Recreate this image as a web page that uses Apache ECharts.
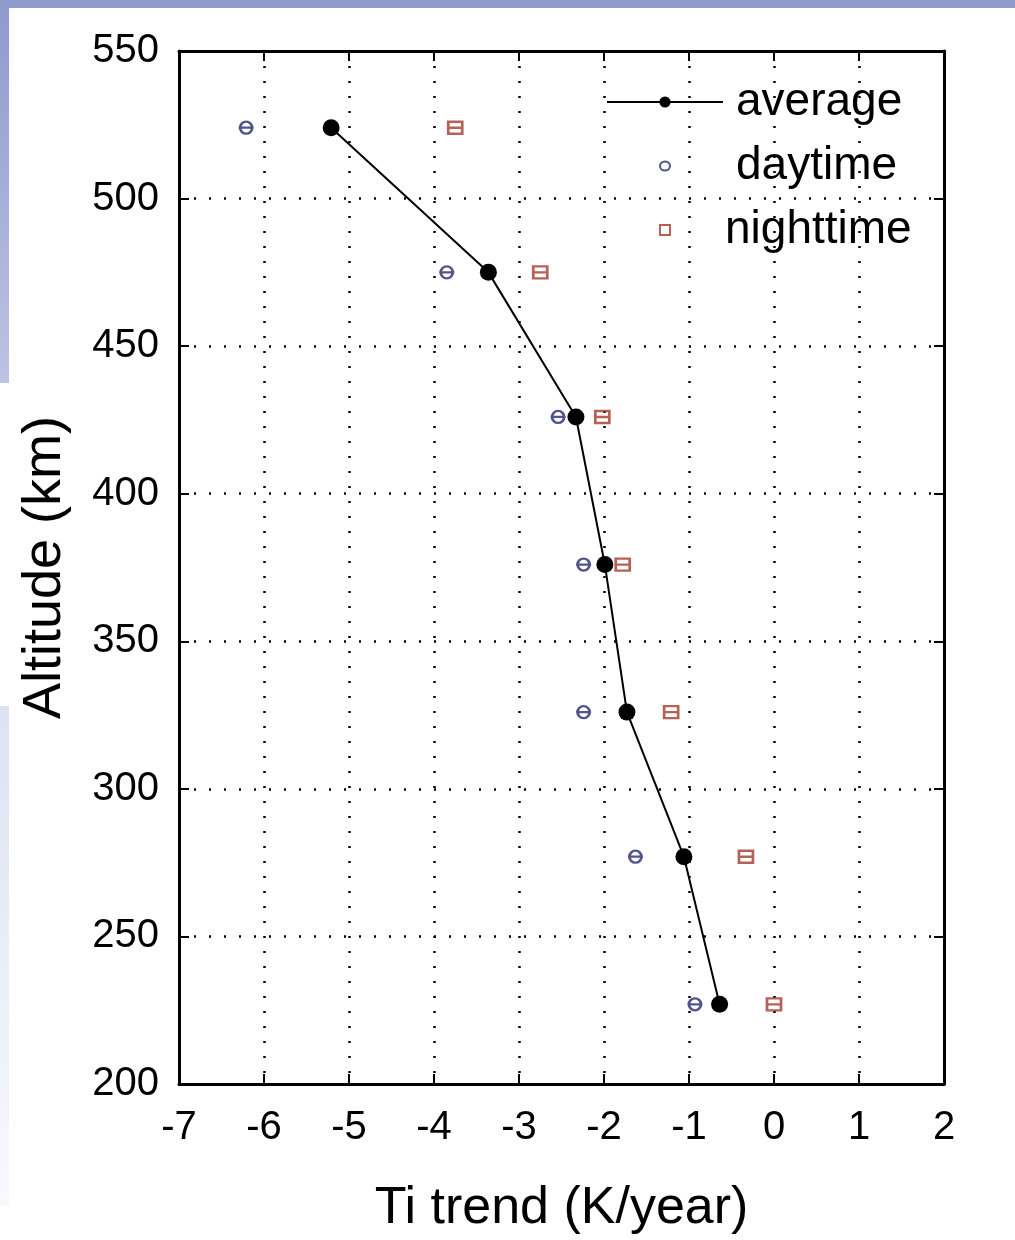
<!DOCTYPE html>
<html>
<head>
<meta charset="utf-8">
<title>Ti trend</title>
<script src="https://cdn.jsdelivr.net/npm/echarts@6/dist/echarts.min.js"></script>
<style>
  html, body { margin: 0; padding: 0; background: #fff; }
  #chart { width: 1015px; height: 1240px; }
</style>
</head>
<body>
<div id="chart"></div>
<script>
// altitude levels (km)
const altitudes = [524, 475, 426, 376, 326, 277, 227];
// Ti trends (K/year)
const average = [-5.21, -3.36, -2.33, -1.99, -1.73, -1.06, -0.64];
const daytime = [-6.21, -3.85, -2.54, -2.24, -2.24, -1.63, -0.93];
const nighttime = [-3.75, -2.75, -2.02, -1.78, -1.21, -0.33, 0.0];

const pairs = (xs) => xs.map((x, i) => [x, altitudes[i]]);

const font = 'Liberation Sans, Arial, sans-serif';
const dotted = { color: '#000', width: 2.5, type: [2, 13] };
const dayColor = '#262b6e';
const nightColor = '#a23a2a';

const chart = echarts.init(document.getElementById('chart'));

const boxAxis = {
  axisLine: { onZero: false, lineStyle: { color: '#000', width: 3 } },
  axisTick: { inside: true, length: 10, lineStyle: { color: '#000', width: 2 } }
};

const option = {
  backgroundColor: '#fff',
  animation: false,
  graphic: [
    { type: 'rect', shape: { x: 0, y: 0, width: 1015, height: 8 }, style: { fill: '#8e9acc' }, silent: true },
    {
      type: 'rect', shape: { x: 0, y: 0, width: 9, height: 383 }, silent: true,
      style: { fill: new echarts.graphic.LinearGradient(0, 0, 0, 1, [
        { offset: 0, color: '#8e9acc' }, { offset: 1, color: '#bcc3e4' }
      ]) }
    },
    {
      type: 'rect', shape: { x: 0, y: 706, width: 9, height: 500 }, silent: true,
      style: { fill: new echarts.graphic.LinearGradient(0, 0, 0, 1, [
        { offset: 0, color: '#dde1f1' }, { offset: 1, color: '#f8f9fd' }
      ]) }
    }
  ],
  grid: { left: 179, right: 71, top: 51, bottom: 146 },
  legend: {
    orient: 'vertical', align: 'left', left: 601, top: 74,
    itemWidth: 116, itemHeight: 14, itemGap: 18,
    textStyle: { fontFamily: font, fontSize: 46, color: '#000', padding: [0, 0, 0, 8] },
    data: [
      { name: 'average' },
      {
        name: 'daytime',
        icon: 'path://M0,0M116,14M53,7a5,4.5 0 1,0 10,0a5,4.5 0 1,0 -10,0z',
        itemStyle: { color: '#fff', borderColor: dayColor, borderWidth: 2 }
      },
      {
        name: 'nighttime',
        icon: 'path://M0,0M116,14M53,2h10v10h-10z',
        itemStyle: { color: '#fff', borderColor: nightColor, borderWidth: 2 },
        textStyle: { padding: [0, 0, 0, -3] }
      }
    ]
  },
  xAxis: [
    Object.assign({
      type: 'value', min: -7, max: 2, interval: 1, position: 'bottom',
      name: 'Ti trend (K/year)', nameLocation: 'middle', nameGap: 99,
      nameTextStyle: { fontFamily: font, fontSize: 52, color: '#000' },
      axisLabel: { fontFamily: font, fontSize: 40, color: '#000', margin: 24 },
      splitLine: { show: true, lineStyle: dotted }
    }, boxAxis),
    Object.assign({
      type: 'value', min: -7, max: 2, interval: 1, position: 'top',
      axisLabel: { show: false },
      splitLine: { show: false }
    }, boxAxis)
  ],
  yAxis: [
    Object.assign({
      type: 'value', min: 200, max: 550, interval: 50, position: 'left',
      name: 'Altitude (km)', nameLocation: 'middle', nameGap: 107, nameRotate: 90,
      nameTextStyle: { fontFamily: font, fontSize: 54, color: '#000' },
      axisLabel: { fontFamily: font, fontSize: 40, color: '#000', margin: 20 },
      splitLine: { show: true, lineStyle: dotted }
    }, boxAxis),
    Object.assign({
      type: 'value', min: 200, max: 550, interval: 50, position: 'right',
      axisLabel: { show: false },
      splitLine: { show: false }
    }, boxAxis)
  ],
  series: [
    {
      name: 'average', type: 'line', data: pairs(average),
      symbol: 'circle', symbolSize: 17,
      lineStyle: { color: '#000', width: 2 },
      itemStyle: { color: '#000' },
      z: 4
    },
    {
      name: 'daytime', type: 'scatter', data: pairs(daytime),
      symbol: 'path://M1,5a4,4 0 1,0 8,0a4,4 0 1,0 -8,0zM0,5h10',
      symbolSize: [15, 12],
      itemStyle: { color: 'rgba(0,0,0,0)', borderColor: dayColor, borderWidth: 2.5 },
      z: 3
    },
    {
      name: 'nighttime', type: 'scatter', data: pairs(nighttime),
      symbol: 'path://M0,0h10v8h-10zM0,4h10',
      symbolSize: [14, 12],
      itemStyle: { color: 'rgba(0,0,0,0)', borderColor: nightColor, borderWidth: 2.5 },
      z: 3
    }
  ]
};

chart.setOption(option);
window.addEventListener('resize', () => chart.resize());
</script>
</body>
</html>
